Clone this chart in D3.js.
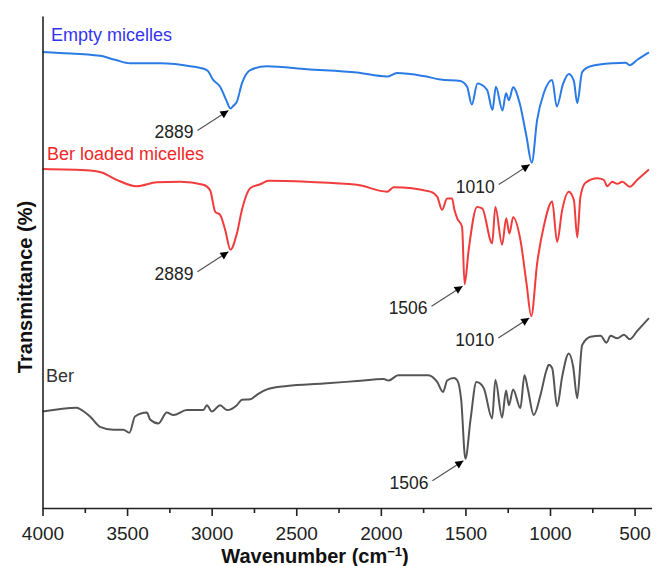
<!DOCTYPE html>
<html>
<head>
<meta charset="utf-8">
<script src="https://cdn.jsdelivr.net/npm/d3@7"></script>
<style>
    body { margin: 0; background: #fff; }
    svg { display: block; font-family: "Liberation Sans", Arial, sans-serif; }
</style>
</head>
<body>
<div id="chart"></div>
<script>
(function () {
    "use strict";

    // spectra (wavenumber in cm-1, transmittance in arbitrary % units)
    var seriesNames = ["Empty micelles", "Ber loaded micelles", "Ber"];

    var wnEmpty = [4000, 3896, 3660, 3571, 3482, 3305, 3127, 3028, 2991, 2950, 2914, 2889, 2873, 2851, 2821, 2772, 2673, 2437, 2141, 1963, 1904, 1749, 1648, 1530, 1490, 1462, 1429, 1372, 1340, 1320, 1281, 1260, 1243, 1218, 1181, 1139, 1108, 1076, 1037, 987, 960, 923, 888, 859, 839, 810, 760, 624, 553, 528, 484, 415];
    var tEmpty = [92.7, 92.5, 91.9, 91.1, 90.4, 90.4, 89.8, 89.0, 87.0, 85.6, 82.9, 81.2, 81.7, 82.6, 86.3, 89.0, 89.8, 89.2, 88.5, 87.7, 88.4, 87.8, 87.1, 86.8, 85.6, 82.0, 86.3, 85.0, 80.9, 85.6, 80.8, 84.3, 82.9, 85.5, 82.5, 75.5, 70.2, 78.9, 84.3, 87.0, 81.6, 86.2, 88.2, 86.8, 82.3, 88.6, 89.8, 90.4, 90.5, 90.0, 91.1, 92.6];

    var wnLoaded = [4000, 3719, 3650, 3561, 3443, 3324, 3186, 3049, 3009, 2979, 2950, 2920, 2889, 2851, 2821, 2772, 2713, 2664, 2437, 2141, 1963, 1924, 1707, 1666, 1638, 1608, 1579, 1565, 1549, 1520, 1505, 1481, 1431, 1401, 1342, 1323, 1283, 1259, 1240, 1218, 1175, 1139, 1111, 1076, 1037, 987, 958, 928, 889, 859, 839, 820, 790, 721, 682, 662, 632, 602, 573, 528, 484, 415];
    var tLoaded = [68.9, 68.6, 68.2, 66.7, 65.4, 66.2, 66.3, 65.7, 64.6, 60.2, 59.6, 56.5, 52.5, 55.8, 60.6, 65.0, 65.8, 66.5, 66.3, 65.7, 64.3, 65.2, 64.3, 63.2, 60.6, 62.9, 62.9, 60.6, 58.9, 57.2, 45.5, 52.4, 61.2, 60.9, 53.8, 61.2, 53.5, 58.9, 55.8, 59.1, 54.5, 45.7, 39.0, 49.7, 57.2, 62.3, 54.1, 60.6, 64.3, 62.6, 55.0, 63.3, 66.1, 67.0, 66.7, 65.4, 66.3, 65.9, 66.3, 65.3, 66.7, 68.8];

    var wnBer = [4000, 3798, 3778, 3719, 3660, 3581, 3522, 3486, 3453, 3383, 3364, 3315, 3265, 3226, 3147, 3049, 3028, 2999, 2950, 2910, 2851, 2821, 2772, 2733, 2673, 2555, 2339, 2141, 1983, 1954, 1897, 1719, 1668, 1632, 1608, 1569, 1549, 1525, 1500, 1470, 1435, 1392, 1342, 1323, 1283, 1260, 1243, 1218, 1175, 1151, 1131, 1096, 1056, 1021, 1007, 987, 958, 928, 889, 863, 839, 810, 760, 701, 666, 642, 602, 563, 528, 484, 415];
    var tBer = [19.6, 20.4, 20.1, 18.6, 16.5, 15.9, 15.9, 15.3, 18.6, 19.4, 18.0, 17.2, 19.4, 18.9, 19.9, 19.9, 20.9, 19.6, 20.9, 19.9, 20.9, 22.0, 22.1, 23.0, 24.1, 24.8, 25.3, 25.8, 26.2, 25.9, 27.0, 27.0, 25.7, 23.6, 25.9, 26.4, 26.0, 22.0, 10.0, 17.9, 25.6, 24.4, 18.2, 26.0, 18.4, 23.9, 20.9, 24.1, 20.3, 27.0, 24.2, 18.9, 23.0, 28.0, 29.1, 28.4, 20.7, 26.7, 31.4, 28.7, 22.3, 33.1, 34.8, 35.0, 33.6, 35.0, 34.5, 35.2, 34.3, 36.0, 38.6];

    var xTicks = [4000, 3500, 3000, 2500, 2000, 1500, 1000, 500];
    var xMinorTicks = [3750, 3250, 2750, 2250, 1750, 1250, 750];

    // peak annotations: which series, where the arrow points, what it says
    var annoSeries = [0, 1, 1, 1, 0, 2];
    var annoWn = [2889, 2889, 1505, 1111, 1108, 1500];
    var annoText = ["2889", "2889", "1506", "1010", "1010", "1506"];

    var waves = [wnEmpty, wnLoaded, wnBer];
    var trans = [tEmpty, tLoaded, tBer];

    var lineColors = ["#2b7be6", "#f03c3c", "#555555"];
    var labelColors = ["#3434ee", "#f02828", "#333333"];
    var labelPos = [[51, 41], [47, 160], [46, 382]];

    var w = 658;
    var h = 566;
    var left = 42.5, right = 651.5, top = 16, bottom = 508;

    var svg = d3.select("#chart")
                .append("svg")
                .attr("width", w)
                .attr("height", h);

    // arrow head
    svg.append("defs").append("marker")
        .attr("id", "head")
        .attr("viewBox", "0 0 10 10")
        .attr("refX", 10)
        .attr("refY", 5)
        .attr("markerWidth", 11)
        .attr("markerHeight", 8)
        .attr("markerUnits", "userSpaceOnUse")
        .attr("orient", "auto")
        .append("path")
        .attr("d", "M0,0L10,5L0,10Z")
        .attr("fill", "#000");

    var x = d3.scaleLinear().domain([4000, 400]).range([left, right]);
    var y = d3.scaleLinear().domain([0, 100]).range([bottom, top]);

    var line = d3.line()
        .x(function (d) { return x(d[0]); })
        .y(function (d) { return y(d[1]); })
        .curve(d3.curveMonotoneX);

    //the spectra
    waves.forEach(function (wn, i) {
        var pts = wn.map(function (v, j) { return [v, trans[i][j]]; });
        svg.append("path")
            .datum(pts)
            .attr("d", line)
            .attr("fill", "none")
            .attr("stroke", lineColors[i])
            .attr("stroke-width", 2)
            .attr("stroke-linejoin", "round");
    });

    //series labels
    seriesNames.forEach(function (name, i) {
        svg.append("text")
            .attr("x", labelPos[i][0])
            .attr("y", labelPos[i][1])
            .attr("font-size", 18)
            .attr("fill", labelColors[i])
            .text(name);
    });

    //x axis, major and minor ticks
    var xAxis = svg.append("g")
        .attr("transform", "translate(0," + bottom + ")")
        .call(d3.axisBottom(x).tickValues(xTicks).tickFormat(d3.format("d")).tickSize(8).tickSizeOuter(0));
    xAxis.select(".domain").attr("stroke", "#222").attr("stroke-width", 1.6);
    xAxis.selectAll(".tick line").attr("stroke", "#222").attr("stroke-width", 1.6);
    xAxis.selectAll(".tick text")
        .attr("font-size", 19)
        .attr("font-family", "Liberation Sans, Arial, sans-serif")
        .attr("fill", "#222")
        .attr("dy", "1.12em");

    var xMinor = svg.append("g")
        .attr("transform", "translate(0," + bottom + ")")
        .call(d3.axisBottom(x).tickValues(xMinorTicks).tickFormat("").tickSize(5).tickSizeOuter(0));
    xMinor.select(".domain").remove();
    xMinor.selectAll(".tick line").attr("stroke", "#222").attr("stroke-width", 1.6);

    //y axis, no ticks
    var yAxis = svg.append("g")
        .attr("transform", "translate(" + left + ",0)")
        .call(d3.axisLeft(y).tickValues([]).tickSizeOuter(0));
    yAxis.select(".domain").attr("stroke", "#222").attr("stroke-width", 1.6);

    //axis titles
    var xt = svg.append("text")
        .attr("x", 315)
        .attr("y", 563)
        .attr("text-anchor", "middle")
        .attr("font-size", 20)
        .attr("font-weight", "bold")
        .attr("fill", "#111");
    xt.append("tspan").text("Wavenumber (cm");
    xt.append("tspan").attr("dy", -7).attr("font-size", 13).text("\u22121");
    xt.append("tspan").attr("dy", 7).text(")");

    svg.append("text")
        .attr("transform", "translate(32,287) rotate(-90)")
        .attr("text-anchor", "middle")
        .attr("font-size", 20)
        .attr("font-weight", "bold")
        .attr("fill", "#111")
        .text("Transmittance (%)");

    //peak arrows
    annoWn.forEach(function (pk, k) {
        var s = annoSeries[k];
        var wn = waves[s];
        var best = 0;
        wn.forEach(function (v, j) {
            if (Math.abs(v - pk) < Math.abs(wn[best] - pk)) { best = j; }
        });
        var tx = x(wn[best]) - 2;
        var ty = y(trans[s][best]) + 2;
        var sx = tx - 31;
        var sy = ty + 20;

        svg.append("line")
            .attr("x1", sx).attr("y1", sy)
            .attr("x2", tx).attr("y2", ty)
            .attr("stroke", "#555")
            .attr("stroke-width", 1.2)
            .attr("marker-end", "url(#head)");

        svg.append("text")
            .attr("x", sx - 4)
            .attr("y", sy + 8)
            .attr("text-anchor", "end")
            .attr("font-size", 17.5)
            .attr("fill", "#222")
            .text(annoText[k]);
    });

})();
</script>
</body>
</html>
